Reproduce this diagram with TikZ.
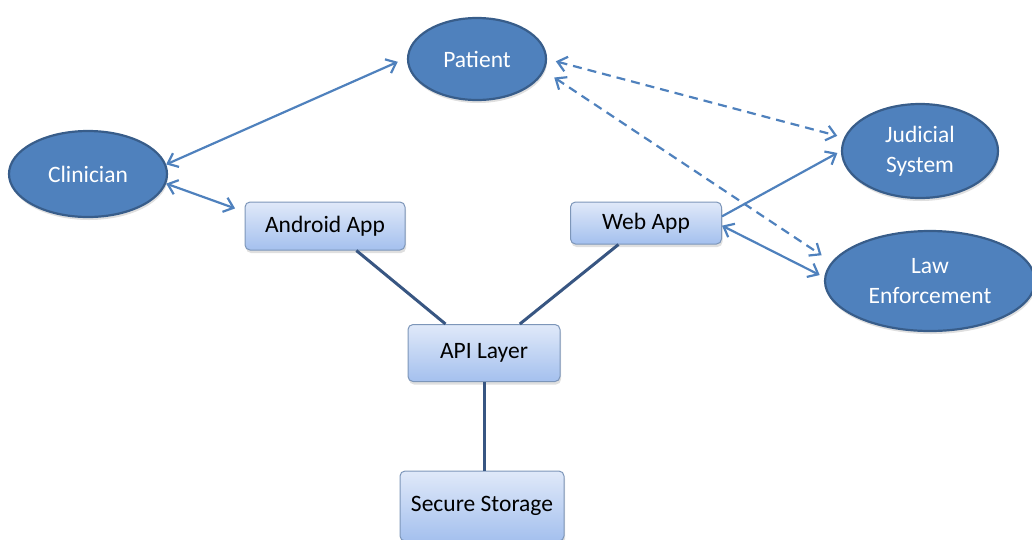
\documentclass[tikz,border=0pt]{standalone}
\usepackage{fontspec}
\setmainfont{Carlito}
\usetikzlibrary{arrows.meta,shapes.geometric,shadows}
\definecolor{ellfill}{RGB}{79,129,189}
\definecolor{elldraw}{RGB}{56,93,138}
\definecolor{linkcol}{RGB}{79,129,189}
\definecolor{darklink}{RGB}{56,86,130}
\definecolor{boxtop}{RGB}{224,233,249}
\definecolor{boxbot}{RGB}{164,192,238}
\definecolor{boxdraw}{RGB}{125,150,185}
\begin{document}
\begin{tikzpicture}[x=1pt,y=-1pt,
  every node/.style={font=\fontsize{23.5}{29.5}\selectfont},
  actor/.style={ellipse,fill=ellfill,draw=elldraw,line width=2.2pt,text=white,inner sep=0pt,align=center,
    drop shadow={shadow xshift=1pt,shadow yshift=-3pt,opacity=0.25}},
  compbox/.style={rectangle,rounded corners=5pt,top color=boxtop,bottom color=boxbot,draw=boxdraw,line width=1pt,
    text=black,inner sep=0pt,drop shadow={shadow xshift=1pt,shadow yshift=-3pt,opacity=0.25}},
  link/.style={draw=linkcol,line width=2.2pt},
  dlink/.style={draw=darklink,line width=3pt},
  tlink/.style={link,{Straight Barb[length=9pt,width=15pt]}-{Straight Barb[length=9pt,width=15pt]}},
  olink/.style={link,-{Straight Barb[length=9pt,width=15pt]}},
  dashlink/.style={dash pattern=on 9pt off 6pt}
]
\useasboundingbox (0,0) rectangle (1032,539);
\node[actor,minimum width=138pt,minimum height=82pt] (pat) at (477,59) {Patient};
\node[actor,minimum width=158pt,minimum height=86pt] (clin) at (88,174) {Clinician};
\node[actor,minimum width=156pt,minimum height=94pt] (jud) at (920,151) {Judicial\\System};
\node[actor,minimum width=210pt,minimum height=100pt] (law) at (930,281) {Law\\Enforcement};
\node[compbox,minimum width=160pt,minimum height=48pt] (and) at (325,226) {Android App};
\node[compbox,minimum width=151pt,minimum height=42pt] (web) at (646,223) {Web App};
\node[compbox,minimum width=152pt,minimum height=57pt] (api) at (484,353) {API Layer};
\node[compbox,minimum width=164pt,minimum height=70pt] (sto) at (482,506) {Secure Storage};

\draw[dlink] (and.-38.7) -- (api.143);
\draw[dlink] (web.-142.8) -- (api.39.2);
\draw[dlink] (api.south) -- (api.south |- sto.north);

\draw[tlink,shorten >=10pt] (clin.7) -- (pat.179);
\draw[tlink,shorten >=10pt] (clin.-7) -- (and.170);
\draw[olink,shorten >=4pt] (web.5.3) -- (jud.180);
\draw[tlink,shorten >=5pt] (web.-2) -- (law.178.4);
\draw[tlink,dashlink,shorten <=9pt,shorten >=7pt] (pat.0.7) -- (jud.170.3);
\draw[tlink,dashlink,shorten <=12pt,shorten >=12pt] (pat.-10.9) -- (law.169.7);
\end{tikzpicture}
\end{document}
